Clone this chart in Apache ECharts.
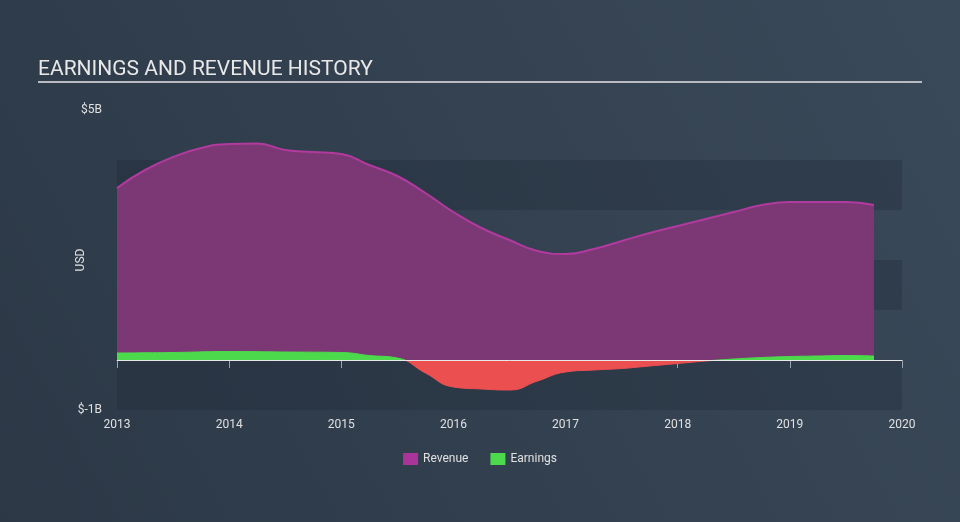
<!DOCTYPE html>
<html><head><meta charset="utf-8">
<script src="https://cdn.jsdelivr.net/npm/echarts@6/dist/echarts.min.js"></script>
<style>html,body{margin:0;padding:0;background:#333f4e}#c{width:960px;height:522px}</style>
</head><body><div id="c"></div>
<script>
const revenueDates = [2013.0,2013.25,2013.5,2013.75,2014.0,2014.25,2014.5,2014.75,2015.0,2015.25,2015.5,2015.75,2016.0,2016.25,2016.5,2016.75,2017.0,2017.25,2017.5,2017.75,2018.0,2018.25,2018.5,2018.75,2019.0,2019.25,2019.5,2019.75];
const revenueValues = [3.44,3.8,4.06,4.24,4.32,4.33,4.2,4.16,4.12,3.9,3.68,3.34,2.96,2.64,2.4,2.18,2.12,2.22,2.38,2.54,2.68,2.82,2.96,3.1,3.16,3.16,3.16,3.1];
const earningsDates = [2013.0,2013.5,2014.0,2014.5,2015.0,2015.25,2015.5,2015.75,2016.0,2016.25,2016.5,2016.75,2017.0,2017.25,2017.5,2017.75,2018.0,2018.25,2018.5,2018.75,2019.0,2019.25,2019.5,2019.75];
const earningsValues = [0.14,0.15,0.17,0.16,0.15,0.09,0.04,-0.26,-0.54,-0.58,-0.6,-0.42,-0.24,-0.2,-0.17,-0.12,-0.07,-0.02,0.02,0.05,0.07,0.08,0.09,0.08];
const yTicks = ['$-1B','$0B','$1B','$2B','$3B','$4B','$5B'];
const xTicks = [2013,2014,2015,2016,2017,2018,2019,2020];

const chart = echarts.init(document.getElementById('c'));
chart.setOption({
  backgroundColor: {type:'linear',x:0,y:1,x2:1,y2:0,colorStops:[{offset:0,color:'#2c3846'},{offset:1,color:'#3a4959'}]},
  animation:false,
  title:{text:'EARNINGS AND REVENUE HISTORY',left:38,top:59,padding:0,textStyle:{color:'#e8e8e8',fontSize:21,fontWeight:'normal',fontFamily:'Roboto'}},
  graphic:[{type:'line',shape:{x1:38,y1:82,x2:922,y2:82},style:{stroke:'#b8bcc2',lineWidth:2}}],
  legend:{bottom:52,left:'center',itemWidth:15,itemHeight:12,itemGap:22,icon:'rect',
    textStyle:{color:'#e0e0e0',fontSize:12,fontFamily:'Roboto'},
    data:[{name:'Revenue',itemStyle:{color:'#a9349a'}},{name:'Earnings',itemStyle:{color:'#4cd94c'}}]},
  grid:{left:117,right:58,top:110,bottom:112},
  xAxis:{type:'value',min:2013,max:2020,interval:1,
    axisLine:{lineStyle:{color:'#9aa4b0'}},axisTick:{show:true,length:8,lineStyle:{color:'#9aa4b0'}},
    axisLabel:{color:'#e0e0e0',fontSize:12,fontFamily:'Roboto',margin:9,formatter:v=>xTicks.includes(v)?String(v):''},
    splitLine:{show:false}},
  yAxis:{type:'value',min:-1,max:5,interval:1,name:'USD',nameLocation:'middle',nameGap:30,nameMoveOverlap:false,
    nameTextStyle:{color:'#e0e0e0',fontSize:12,fontFamily:'Roboto'},
    axisLine:{show:false},axisTick:{show:false},
    axisLabel:{color:'#e0e0e0',fontSize:12,fontFamily:'Roboto',margin:15,formatter:v=>(v===5||v===-1)?yTicks[v+1]:''},
    splitLine:{show:false},
    splitArea:{show:true,areaStyle:{color:['rgba(30,40,52,0.3)','rgba(0,0,0,0)']}}},
  visualMap:{show:false,type:'piecewise',seriesIndex:1,dimension:1,
    pieces:[{min:0,max:5,color:'#4cd94c'},{min:-1,max:0,color:'#eb4f4f'}]},
  series:[
    {name:'Revenue',type:'line',smooth:true,symbol:'none',
      data:revenueDates.map((d,i)=>[d,revenueValues[i]]),
      lineStyle:{color:'#b13a9e',width:2},itemStyle:{color:'#a9349a'},
      areaStyle:{color:'#7b3874',opacity:1},z:2},
    {name:'Earnings',type:'line',smooth:true,symbol:'none',
      data:earningsDates.map((d,i)=>[d,earningsValues[i]]),
      lineStyle:{width:1},itemStyle:{color:'#4cd94c'},
      areaStyle:{opacity:1},
      markLine:{silent:true,symbol:'none',label:{show:false},lineStyle:{color:'#e8e8e8',width:1,type:'solid'},data:[{yAxis:0}]},
      z:3}
  ]
});
</script></body></html>
